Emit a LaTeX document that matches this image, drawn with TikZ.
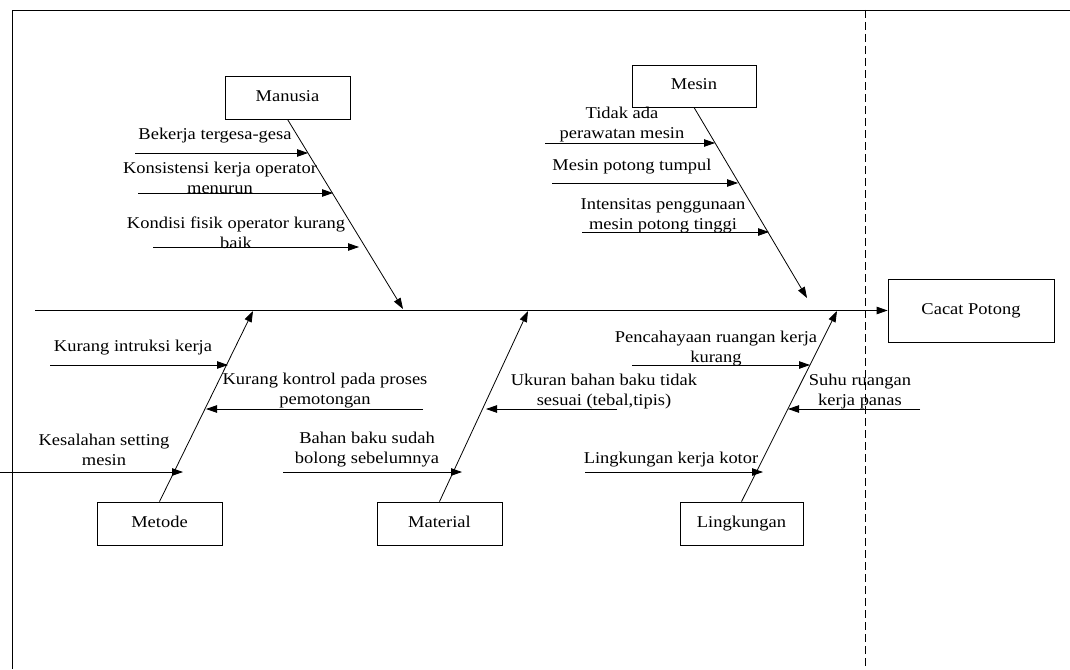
\documentclass[tikz,border=0pt]{standalone}
\usepackage{fontspec}
\setmainfont{Liberation Serif}[FakeStretch=1.12]
\usetikzlibrary{arrows.meta}
\tikzset{
  box/.style={draw=black, line width=0.8pt, fill=white, inner sep=0pt, text height=11pt, text depth=3.5pt, font=\fontsize{16.5}{20}\selectfont},
  lbl/.style={align=center, inner sep=0pt, font=\fontsize{16.5}{20}\selectfont},
  bone/.style={draw=black, line width=0.8pt, -{Triangle[length=11pt,width=7.5pt]}},
  cause/.style={draw=black, line width=0.8pt, -{Triangle[length=11pt,width=7.5pt]}},
  frameline/.style={draw=black, line width=0.8pt},
}
\begin{document}
\begin{tikzpicture}[x=1pt,y=-1pt]
\useasboundingbox (0,0) rectangle (1070,669);
% frame
\coordinate (fTL) at (12,10);
\coordinate (fBL) at (12,669);
\coordinate (fTR) at (1070,10);
\coordinate (dT) at (865,10);
\coordinate (dB) at (865,669);
\draw[frameline] (fBL) -- (fTL) -- (fTR);
\draw[black, line width=0.7pt, dash pattern=on 8pt off 4pt] (dT) -- (dB);

% boxes
\node[box, minimum width=125pt, minimum height=43pt] (man) at (287.5,97.5) {Manusia};
\node[box, minimum width=124pt, minimum height=42pt] (mes) at (694,86) {Mesin};
\node[box, minimum width=166pt, minimum height=63pt] (eff) at (971,310.5) {Cacat Potong};
\node[box, minimum width=125pt, minimum height=43pt] (met) at (159.5,523.5) {Metode};
\node[box, minimum width=125pt, minimum height=43pt] (mat) at (439.5,523.5) {Material};
\node[box, minimum width=123pt, minimum height=43pt] (lin) at (741.5,523.5) {Lingkungan};

% spine
\coordinate (spL) at (35,310.5);
\draw[bone] (spL) -- (eff.west);

% bone tips
\coordinate (tMan) at (403,309);
\coordinate (tMes) at (807,298);
\coordinate (tMet) at (253,311);
\coordinate (tMat) at (528,311);
\coordinate (tLin) at (837,311);
\draw[bone] (man.south) -- (tMan);
\draw[bone] (mes.south) -- (tMes);
\draw[bone] (met.north) -- (tMet);
\draw[bone] (mat.north) -- (tMat);
\draw[bone] (lin.north) -- (tLin);

% cause arrows
\coordinate (s1) at (135,153);  \coordinate (e1) at (308,153);
\coordinate (s2) at (138,193);  \coordinate (e2) at (333,193);
\coordinate (s3) at (153,247);  \coordinate (e3) at (359,247);
\coordinate (s4) at (545,143);  \coordinate (e4) at (715,143);
\coordinate (s5) at (552,183);  \coordinate (e5) at (738,183);
\coordinate (s6) at (582,232);  \coordinate (e6) at (769,232);
\coordinate (s7) at (50,365);   \coordinate (e7) at (228,365);
\coordinate (s8) at (423,409);  \coordinate (e8) at (206,409);
\coordinate (s9) at (0,472);    \coordinate (e9) at (183,472);
\coordinate (s10) at (283,472); \coordinate (e10) at (462,472);
\coordinate (s11) at (617,409); \coordinate (e11) at (486,409);
\coordinate (s12) at (632,365); \coordinate (e12) at (810,365);
\coordinate (s13) at (920,409); \coordinate (e13) at (788,409);
\coordinate (s14) at (585,472); \coordinate (e14) at (763,472);
\foreach \i in {1,...,14} { \draw[cause] (s\i) -- (e\i); }

% labels
\node[lbl] (l1) at (215,136) {Bekerja tergesa-gesa};
\node[lbl] (l2) at (220,178) {Konsistensi kerja operator\\menurun};
\node[lbl] (l3) at (236,232.5) {Kondisi fisik operator kurang\\baik};
\node[lbl] (l4) at (622,125) {Tidak ada\\perawatan mesin};
\node[lbl] (l5) at (632,167) {Mesin potong tumpul};
\node[lbl] (l6) at (663,215.5) {Intensitas penggunaan\\mesin potong tinggi};
\node[lbl] (l7) at (133,348) {Kurang intruksi kerja};
\node[lbl] (l8) at (325,391) {Kurang kontrol pada proses\\pemotongan};
\node[lbl] (l9) at (104,450) {Kesalahan setting\\mesin};
\node[lbl] (l10) at (367,450) {Bahan baku sudah\\bolong sebelumnya};
\node[lbl] (l11) at (604,391.5) {Ukuran bahan baku tidak\\sesuai (tebal,tipis)};
\node[lbl] (l12) at (716,348.5) {Pencahayaan ruangan kerja\\kurang};
\node[lbl] (l13) at (860,391.5) {Suhu ruangan\\kerja panas};
\node[lbl] (l14) at (671,460) {Lingkungan kerja kotor};
\end{tikzpicture}
\end{document}
